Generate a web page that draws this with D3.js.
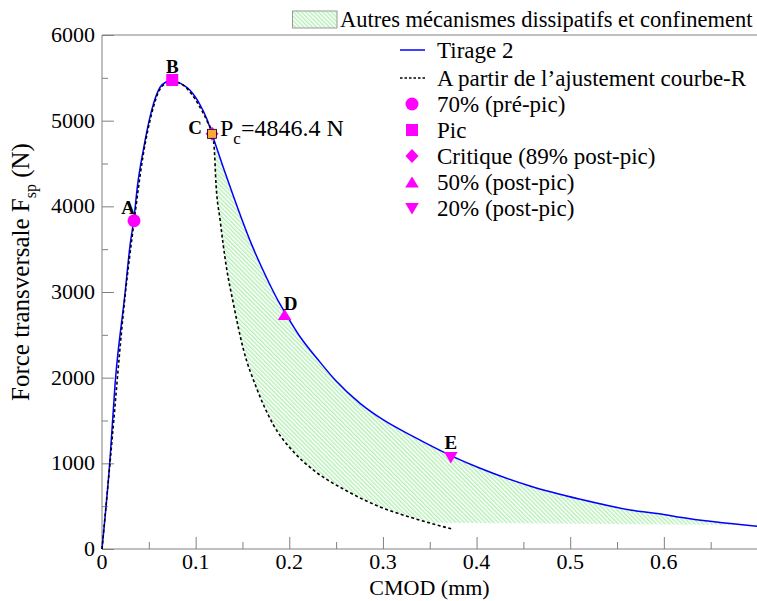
<!DOCTYPE html>
<html><head><meta charset="utf-8">
<script src="https://cdn.jsdelivr.net/npm/d3@7"></script>
<style>body{margin:0;background:#fff}svg{display:block}svg text{font-family:'Liberation Serif','Tinos','Times New Roman','DejaVu Serif',serif;fill:#000}</style>
</head><body><svg id="c" width="757" height="601" font-family="Liberation Serif, Tinos, DejaVu Serif, serif"></svg>
<script>
// ---- data ----
const tirage2 = [[0,0],[0.0085,1040],[0.014,1930],[0.0246,2985],[0.03,3550],[0.034,3850],[0.038,4250],[0.044,4650],[0.053,5120],[0.062,5390],[0.069,5455],[0.075,5475],[0.081,5450],[0.087,5415],[0.094,5355],[0.1,5270],[0.105,5180],[0.112,5020],[0.1175,4846],[0.1225,4680],[0.13,4440],[0.14,4130],[0.15,3830],[0.16,3550],[0.17,3300],[0.18,3070],[0.19,2860],[0.196,2750],[0.2115,2478],[0.231,2206],[0.249,1973],[0.2756,1700],[0.3005,1506],[0.3326,1311],[0.3725,1090],[0.4038,942],[0.457,735],[0.5107,580],[0.5641,455],[0.6033,397],[0.6175,370],[0.7,266]];
const fitR = [[0,0],[0.0085,1000],[0.0246,2950],[0.034,3800],[0.044,4600],[0.053,5080],[0.062,5370],[0.07,5440],[0.076,5450],[0.086,5420],[0.095,5320],[0.105,5150],[0.112,5000],[0.1175,4846],[0.1197,4700],[0.1218,4250],[0.126,3850],[0.133,3280],[0.14,2880],[0.151,2330],[0.165,1880],[0.183,1450],[0.204,1140],[0.226,920],[0.261,680],[0.297,490],[0.333,358],[0.375,230]];
const hatchLower = [[0.1175,4846],[0.1197,4700],[0.1218,4250],[0.126,3850],[0.133,3280],[0.14,2880],[0.151,2330],[0.165,1880],[0.183,1450],[0.204,1140],[0.226,920],[0.261,680],[0.297,490],[0.333,358],[0.35,307],[0.7,280]];
const keyPoints = [
  {name:"A", cmod:0.0342, force:3832, shape:"circle"},
  {name:"B", cmod:0.075, force:5475, shape:"square"},
  {name:"C", cmod:0.1175, force:4846.4, shape:"diamond"},
  {name:"D", cmod:0.195, force:2737, shape:"triUp"},
  {name:"E", cmod:0.3725, force:1075, shape:"triDown"}
];
const xTicks = [0,0.1,0.2,0.3,0.4,0.5,0.6];
const yTicks = [0,1000,2000,3000,4000,5000,6000];
const legendItems = [
  {label:"Tirage 2", kind:"line"},
  {label:"A partir de l\u2019ajustement courbe-R", kind:"dash"},
  {label:"70% (pr\u00e9-pic)", kind:"circle"},
  {label:"Pic", kind:"square"},
  {label:"Critique (89% post-pic)", kind:"diamond"},
  {label:"50% (post-pic)", kind:"triUp"},
  {label:"20% (post-pic)", kind:"triDown"}
];
const hatchLabel = "Autres m\u00e9canismes dissipatifs et confinement";
const pcLabel = {main:"P", sub:"c", rest:"=4846.4 N"};

// ---- drawing ----
const FONT = "Liberation Serif, Tinos, DejaVu Serif, serif";
const svg = d3.select("#c");
const x = d3.scaleLinear().domain([0,0.7]).range([102,757.5]);
const y = d3.scaleLinear().domain([0,6000]).range([549,35]);
const GRAY = "#808080", MAG = "#ff00ff";

const defs = svg.append("defs");
const pat = defs.append("pattern").attr("id","hatch").attr("patternUnits","userSpaceOnUse")
  .attr("width",3).attr("height",3).attr("patternTransform","rotate(-45)");
pat.append("line").attr("x1",0.8).attr("y1",0).attr("x2",0.8).attr("y2",3)
  .attr("stroke","#7ee27e").attr("stroke-width",0.8);

// hatch area
const lin = d3.line().x(d=>x(d[0])).y(d=>y(d[1]));
const upper = tirage2.filter(d=>d[0]>=0.1175);
svg.append("path").attr("d", lin(upper.concat(hatchLower.slice().reverse()))+"Z")
  .attr("fill","url(#hatch)").attr("stroke","none");

// axes
const gx = svg.append("g").attr("transform","translate(0,549)")
  .call(d3.axisBottom(x).tickValues(d3.range(0,0.71,0.05).map(v=>+v.toFixed(2))).tickSize(-12).tickFormat(""));
gx.selectAll(".tick line").attr("y2", d=>Math.abs(d*10-Math.round(d*10))<1e-6 ? -12 : -7);
const gy = svg.append("g").attr("transform","translate(102,0)")
  .call(d3.axisLeft(y).tickValues(d3.range(0,6001,500)).tickSize(-12).tickFormat(""));
gy.selectAll(".tick line").attr("x2", d=>d%1000===0 ? 12 : 6);
[gx,gy].forEach(g=>{g.selectAll(".tick line").attr("stroke",GRAY); g.select(".domain").remove();});
svg.append("line").attr("x1",x(0)).attr("x2",757).attr("y1",y(0)).attr("y2",y(0)).attr("stroke",GRAY);
svg.append("line").attr("x1",x(0)).attr("x2",x(0)).attr("y1",y(0)).attr("y2",y(6000)).attr("stroke",GRAY);
svg.append("line").attr("x1",x(0)).attr("x2",757).attr("y1",y(6000)).attr("y2",y(6000)).attr("stroke",GRAY);

svg.selectAll(".xl").data(xTicks).enter().append("text").attr("class","xl").attr("font-family",FONT)
  .attr("x",d=>x(d)).attr("y",569).attr("text-anchor","middle").attr("font-size",22)
  .text(d=>d===0?"0":d3.format(".1f")(d));
svg.selectAll(".yl").data(yTicks).enter().append("text").attr("class","yl").attr("font-family",FONT)
  .attr("x",95).attr("y",d=>y(d)+7).attr("text-anchor","end").attr("font-size",22)
  .text(d=>d);

svg.append("text").attr("font-family",FONT).attr("x",429.5).attr("y",595).attr("text-anchor","middle").attr("font-size",22).text("CMOD (mm)");
const yt = svg.append("text").attr("font-family",FONT).attr("transform","translate(29,272) rotate(-90)").attr("text-anchor","middle").attr("font-size",25);
yt.append("tspan").text("Force transversale F");
yt.append("tspan").attr("font-size",16).attr("dy",7).text("sp");
yt.append("tspan").attr("dy",-7).text(" (N)");

// curves
const smooth = d3.line().x(d=>x(d[0])).y(d=>y(d[1])).curve(d3.curveMonotoneX);
svg.append("path").attr("d",smooth(tirage2)).attr("fill","none").attr("stroke","#0000ff").attr("stroke-width",1.5);
svg.append("path").attr("d",smooth(fitR)).attr("fill","none").attr("stroke","#000").attr("stroke-width",1.6).attr("stroke-dasharray","3,2.5");

// markers
function shapePath(s){
  switch(s){
    case "circle": return "M6.5,0A6.5,6.5 0 1,1 -6.5,0A6.5,6.5 0 1,1 6.5,0Z";
    case "square": return "M-6,-6H6V6H-6Z";
    case "diamond": return "M0,-7L6.5,0L0,7L-6.5,0Z";
    case "triUp": return "M0,-5.5L6.8,5.5L-6.8,5.5Z";
    case "triDown": return "M0,6.5L6.8,-5L-6.8,-5Z";
  }
}
const kp = svg.selectAll(".kp").data(keyPoints).enter().append("g").attr("class","kp")
  .attr("transform",d=>`translate(${x(d.cmod)},${y(d.force)})`);
kp.append("path").attr("d",d=>shapePath(d.shape)).attr("fill",MAG);
svg.append("rect").attr("x",x(0.1175)-4.5).attr("y",y(4846.4)-4.5).attr("width",9).attr("height",9)
  .attr("fill","#f7a93b").attr("stroke","#000").attr("stroke-width",0.8);

const letterOff = {A:[-6,-13],B:[0,-13],C:[-17,-6],D:[6,-11],E:[0,-14]};
svg.selectAll(".lt").data(keyPoints).enter().append("text").attr("class","lt").attr("font-family",FONT)
  .attr("x",d=>x(d.cmod)+letterOff[d.name][0]).attr("y",d=>y(d.force)+letterOff[d.name][1]+6.5)
  .attr("text-anchor","middle").attr("font-size",19).attr("font-weight","bold").text(d=>d.name);

const pc = svg.append("text").attr("font-family",FONT).attr("x",220).attr("y",136).attr("font-size",24);
pc.append("tspan").text(pcLabel.main);
pc.append("tspan").attr("font-size",17).attr("dy",8).text(pcLabel.sub);
pc.append("tspan").attr("dy",-8).text(pcLabel.rest);

// top legend (hatched)
svg.append("rect").attr("x",292.5).attr("y",11).attr("width",44.5).attr("height",17)
  .attr("fill","url(#hatch)").attr("stroke","#999").attr("stroke-width",1);
svg.append("text").attr("font-family",FONT).attr("x",340).attr("y",26.5).attr("font-size",22.5).text(hatchLabel);

// legend
const rowY = [50,78,104,130,156,182,208];
const lg = svg.selectAll(".lg").data(legendItems).enter().append("g").attr("class","lg")
  .attr("transform",(d,i)=>`translate(0,${rowY[i]})`);
lg.filter(d=>d.kind==="line").append("line").attr("x1",400).attr("x2",425).attr("stroke","#0000ff").attr("stroke-width",1.5);
lg.filter(d=>d.kind==="dash").append("line").attr("x1",400).attr("x2",425).attr("stroke","#000").attr("stroke-width",1.5).attr("stroke-dasharray","2.5,2");
lg.filter(d=>d.kind!=="line"&&d.kind!=="dash").append("path").attr("transform","translate(412,0)")
  .attr("d",d=>shapePath(d.kind)).attr("fill",MAG);
lg.append("text").attr("font-family",FONT).attr("x",437).attr("y",7.5).attr("font-size",23).text(d=>d.label);
</script></body></html>
